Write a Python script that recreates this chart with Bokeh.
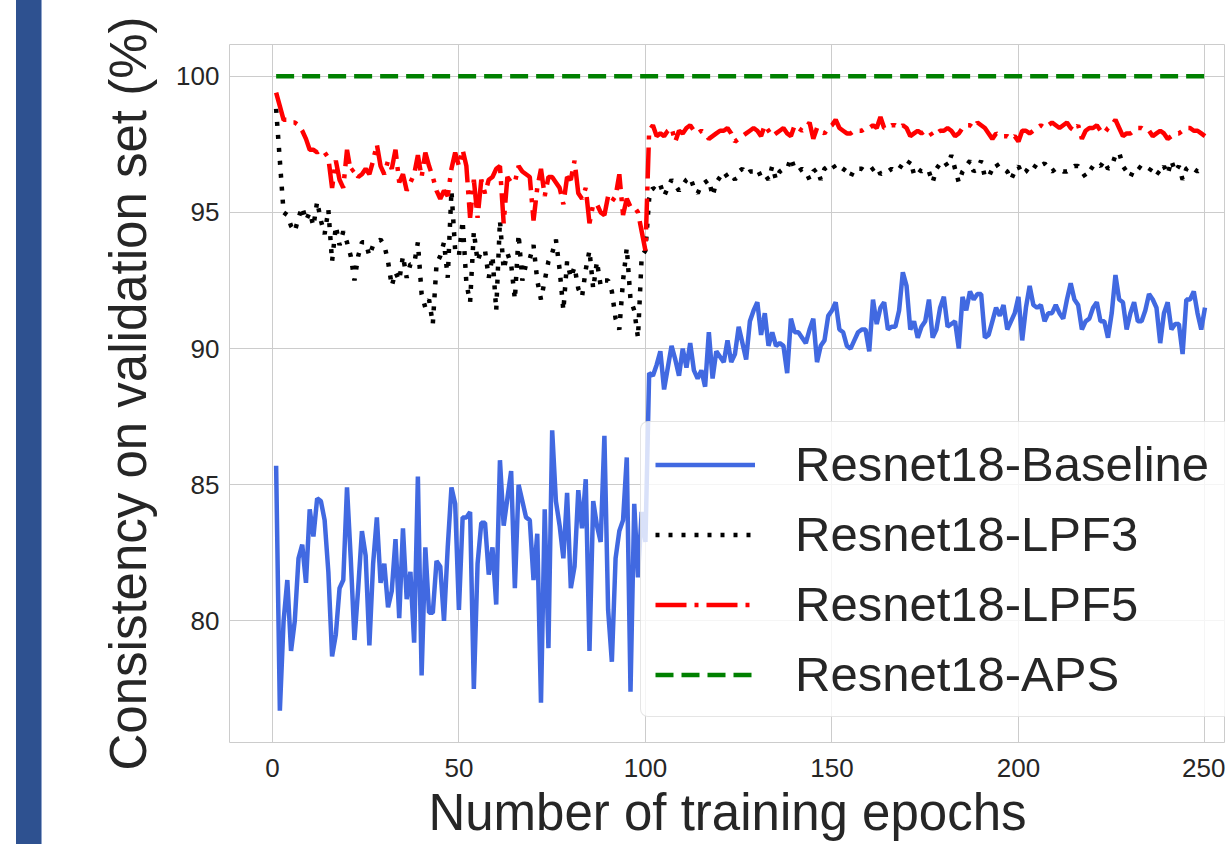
from bokeh.plotting import figure
from bokeh.models import Range1d, FixedTicker, Legend, Div
from bokeh.layouts import row
from bokeh.embed import file_html
from bokeh.resources import INLINE

epochs = list(range(1, 251))

baseline = [
    85.7, 76.7, 80.0, 81.5, 78.9, 80.0, 82.3, 82.8, 81.4, 84.1,
    83.1, 84.5, 84.4, 83.7, 81.8, 78.7, 79.5, 81.2, 81.5, 84.9,
    82.3, 79.3, 81.2, 83.3, 82.4, 79.1, 82.1, 83.8, 81.4, 82.1,
    80.5, 81.1, 83.0, 80.1, 83.4, 80.8, 81.8, 79.2, 85.3, 78.0,
    82.7, 80.3, 80.3, 82.2, 82.0, 80.0, 82.7, 84.9, 84.3, 80.4,
    83.8, 83.8, 84.0, 77.5, 82.1, 83.6, 83.6, 81.7, 82.7, 80.6,
    85.9, 83.5, 84.5, 85.5, 81.2, 85.0, 84.4, 83.8, 83.7, 81.5,
    83.2, 77.0, 84.1, 79.0, 87.0, 84.4, 83.5, 82.3, 84.7, 81.2,
    82.0, 84.8, 83.4, 85.2, 78.9, 84.4, 83.5, 82.9, 86.8, 80.4,
    78.5, 82.3, 83.3, 83.7, 86.0, 77.4, 84.3, 81.6, 84.0, 82.9,
    89.1, 89.0, 89.4, 89.9, 88.5, 89.3, 90.1, 89.6, 89.0, 90.0,
    89.3, 90.2, 89.2, 88.9, 89.2, 88.6, 90.6, 88.9, 89.9, 89.7,
    89.5, 90.3, 89.5, 89.8, 90.8, 90.2, 89.6, 91.0, 91.4, 91.7,
    90.5, 91.3, 90.1, 90.6, 90.1, 90.2, 90.1, 89.1, 91.1, 90.6,
    90.6, 90.4, 90.2, 90.7, 91.1, 89.5, 90.1, 90.3, 91.2, 91.4,
    91.7, 90.7, 90.6, 90.1, 90.0, 90.3, 90.6, 90.7, 90.7, 89.9,
    91.8, 90.9, 91.5, 91.7, 90.7, 90.8, 90.8, 91.4, 92.8, 92.3,
    90.7, 91.0, 90.4, 90.8, 91.0, 91.8, 90.4, 90.7, 91.5, 91.9,
    90.8, 90.9, 91.0, 90.0, 91.9, 91.4, 92.1, 91.8, 92.0, 92.0,
    90.4, 90.5, 91.0, 91.5, 91.2, 91.6, 90.7, 91.0, 91.3, 91.9,
    90.3, 91.5, 92.3, 91.6, 91.5, 91.6, 91.0, 91.3, 91.3, 91.6,
    91.3, 91.1, 91.8, 92.4, 91.8, 91.6, 90.7, 91.0, 91.1, 91.5,
    91.7, 91.0, 91.0, 90.4, 91.3, 92.7, 91.8, 91.7, 90.7, 91.3,
    91.7, 91.0, 91.0, 91.4, 92.0, 91.8, 91.5, 90.2, 91.3, 91.7,
    90.7, 90.9, 90.9, 89.8, 91.8, 91.8, 92.1, 91.3, 90.7, 91.5,
]

lpf3 = [
    98.8, 96.9, 95.0, 94.9, 94.5, 94.3, 94.8, 95.2, 94.7, 95.0,
    94.5, 95.4, 94.7, 94.2, 95.1, 93.2, 94.5, 93.8, 94.3, 93.9,
    93.4, 92.5, 93.4, 93.9, 93.9, 93.4, 93.8, 93.9, 94.0, 93.8,
    93.2, 92.3, 92.8, 92.5, 93.4, 92.6, 93.1, 93.1, 93.9, 92.0,
    91.5, 91.8, 90.9, 93.1, 93.4, 93.9, 92.6, 95.8, 93.6, 93.4,
    94.7, 92.4, 91.7, 94.3, 93.2, 93.6, 93.6, 92.6, 93.4, 91.4,
    94.7, 92.9, 93.5, 93.1, 91.8, 94.2, 92.5, 93.1, 93.3, 93.8,
    92.5, 91.8, 92.5, 93.2, 93.5, 94.0, 92.9, 91.4, 93.2, 92.6,
    93.0, 92.2, 91.9, 92.9, 93.6, 92.2, 93.2, 92.3, 92.5, 92.5,
    92.1, 91.1, 90.7, 92.5, 93.7, 91.8, 91.4, 90.4, 93.4, 93.6,
    95.5, 95.9, 95.8, 96.0, 95.6, 95.9, 96.2, 96.0, 95.8, 96.0,
    96.2, 96.3, 95.9, 95.7, 96.0, 96.1, 96.2, 95.6, 96.1, 96.3,
    96.5, 96.3, 96.4, 96.2, 96.5, 96.6, 96.4, 96.5, 96.5, 96.6,
    96.3, 96.4, 96.2, 96.7, 96.2, 96.5, 96.6, 96.6, 97.0, 96.6,
    96.5, 96.6, 96.5, 96.2, 96.5, 96.6, 96.2, 96.6, 96.7, 96.8,
    96.6, 96.7, 96.6, 96.5, 96.3, 96.6, 96.6, 96.6, 96.5, 96.5,
    96.6, 96.7, 96.4, 96.5, 96.5, 96.6, 96.5, 96.6, 96.8, 96.7,
    96.9, 96.4, 96.6, 96.5, 96.6, 96.5, 96.1, 96.6, 96.8, 96.9,
    96.7, 97.1, 96.6, 96.1, 96.5, 96.7, 96.9, 96.5, 96.6, 96.9,
    96.3, 96.3, 96.6, 96.8, 96.6, 96.6, 96.5, 96.2, 96.5, 96.7,
    96.4, 96.5, 96.7, 96.6, 96.8, 96.7, 96.8, 96.6, 96.5, 96.6,
    96.6, 96.5, 96.5, 96.6, 96.7, 96.7, 96.5, 96.3, 96.5, 96.7,
    96.8, 96.7, 96.9, 96.6, 96.7, 97.1, 97.2, 96.7, 96.5, 96.3,
    96.6, 96.7, 96.6, 96.5, 96.5, 96.7, 96.5, 96.4, 96.7, 96.4,
    96.9, 96.5, 96.7, 96.2, 96.6, 96.7, 96.6, 96.5, 96.6, 96.5,
]

lpf5 = [
    99.4, 98.9, 98.4, 98.4, 98.3, 98.3, 98.2, 98.0, 97.7, 97.3,
    97.3, 97.2, 97.3, 97.2, 97.0, 95.9, 96.9, 96.2, 95.9, 97.3,
    96.5, 96.6, 96.3, 96.4, 96.6, 96.4, 96.9, 97.5, 96.7, 96.4,
    96.9, 96.6, 97.3, 96.1, 96.4, 95.8, 96.1, 96.4, 97.1, 96.3,
    97.2, 96.7, 96.3, 95.8, 95.5, 95.8, 95.6, 96.6, 97.2, 96.7,
    97.3, 96.7, 94.8, 96.2, 94.8, 96.2, 95.7, 96.2, 96.3, 96.6,
    96.7, 94.6, 96.3, 96.1, 96.1, 96.7, 96.5, 96.4, 96.3, 94.7,
    95.9, 96.6, 95.6, 96.3, 96.3, 96.1, 95.9, 95.3, 96.3, 96.2,
    96.9, 95.7, 95.5, 95.9, 94.6, 95.3, 95.3, 95.0, 94.9, 95.6,
    95.4, 95.6, 96.4, 94.9, 95.5, 95.2, 95.2, 95.0, 94.3, 93.6,
    98.0, 98.2, 97.8, 97.9, 97.8, 98.0, 98.1, 97.6, 98.0, 97.9,
    98.1, 98.2, 98.0, 97.9, 98.0, 97.9, 97.7, 97.8, 97.9, 98.0,
    98.0, 98.1, 97.9, 97.6, 97.7, 97.8, 97.9, 98.0, 98.1, 98.0,
    97.8, 98.2, 98.0, 97.8, 97.9, 98.0, 98.1, 97.9, 97.8, 98.2,
    98.1, 98.0, 98.1, 98.3, 97.7, 98.1, 98.0, 97.9, 98.1, 98.2,
    98.4, 98.1, 98.0, 97.9, 97.9, 98.0, 98.0, 98.0, 98.1, 98.1,
    98.2, 98.1, 98.5, 98.1, 98.1, 98.2, 98.2, 98.1, 98.2, 98.1,
    97.8, 97.9, 98.0, 97.9, 98.0, 98.0, 97.8, 97.9, 98.0, 98.0,
    98.1, 98.0, 97.8, 97.9, 98.1, 98.2, 98.2, 98.1, 98.3, 98.2,
    98.1, 97.9, 97.7, 97.9, 97.8, 97.8, 97.8, 97.7, 97.8, 97.6,
    98.0, 98.0, 97.9, 98.0, 98.1, 98.2, 98.1, 98.2, 98.3, 98.2,
    98.1, 98.2, 98.3, 98.1, 98.0, 98.2, 97.7, 98.0, 98.1, 98.1,
    98.2, 98.0, 97.9, 98.1, 98.2, 98.4, 98.1, 97.8, 97.9, 97.9,
    98.0, 98.1, 98.1, 98.0, 98.0, 97.8, 97.9, 98.0, 97.9, 97.7,
    97.8, 97.9, 97.9, 98.0, 98.1, 98.1, 98.0, 98.0, 97.9, 97.8,
]

aps = [100.0] * 250

series_names = ["Resnet18-Baseline", "Resnet18-LPF3", "Resnet18-LPF5", "Resnet18-APS"]
x_ticks = [0, 50, 100, 150, 200, 250]
y_ticks = [80, 85, 90, 95, 100]

FONT = "Liberation Sans"
TXT = "#262626"
GRID = "#cccccc"

p = figure(width=1183, height=844, output_backend="svg", toolbar_location=None,
           x_range=Range1d(-11.5, 255.5), y_range=Range1d(75.535, 101.165),
           min_border_left=187, min_border_right=0, min_border_top=44,
           min_border_bottom=102, margin=0)

p.background_fill_color = "white"
p.border_fill_color = "white"
p.outline_line_color = GRID
p.outline_line_width = 1

p.xaxis.ticker = FixedTicker(ticks=x_ticks)
p.yaxis.ticker = FixedTicker(ticks=y_ticks)
p.xgrid.grid_line_color = GRID
p.ygrid.grid_line_color = GRID
p.xgrid.grid_line_width = 1
p.ygrid.grid_line_width = 1

for ax in (p.xaxis, p.yaxis):
    ax.axis_line_color = None
    ax.major_tick_line_color = None
    ax.minor_tick_line_color = None
    ax.major_label_text_font = FONT
    ax.major_label_text_font_size = "26px"
    ax.major_label_text_color = TXT
    ax.axis_label_text_font = FONT
    ax.axis_label_text_font_size = "51px"
    ax.axis_label_text_font_style = "normal"
    ax.axis_label_text_color = TXT

p.xaxis.axis_label = "Number of training epochs"
p.yaxis.axis_label = "Consistency on validation set (%)"
p.xaxis.major_label_standoff = 10
p.yaxis.major_label_standoff = 4
p.xaxis.axis_label_standoff = 4
p.yaxis.axis_label_standoff = 16

r_base = p.line(epochs, baseline, line_color="#4169E1", line_width=4.5)
r_lpf3 = p.line(epochs, lpf3, line_color="black", line_width=4.5, line_dash="4 9")
r_lpf5 = p.line(epochs, lpf5, line_color="#FF0000", line_width=4.5, line_dash="31 8 4 8")
r_aps = p.line(epochs, aps, line_color="#008000", line_width=4.5, line_dash="18 8")

legend = Legend(items=[(series_names[0], [r_base]), (series_names[1], [r_lpf3]),
                       (series_names[2], [r_lpf5]), (series_names[3], [r_aps])],
                location=(411, 25))
legend.label_text_font = FONT
legend.label_text_font_size = "49px"
legend.label_text_color = TXT
legend.glyph_width = 100
legend.glyph_height = 55
legend.label_height = 55
legend.label_width = 440
legend.label_standoff = 40
legend.spacing = 14
legend.padding = 14
legend.margin = 0
legend.background_fill_color = "white"
legend.background_fill_alpha = 0.8
legend.border_line_color = GRID
legend.border_line_width = 1.5
if "border_radius" in Legend.properties():
    legend.border_radius = 8
p.add_layout(legend, "center")

bar = Div(text="", width=26, height=844, margin=(0, 0, 0, 16),
          styles={"background-color": "#2E5190", "border-right": "1px solid #8FA4CC"})

layout = row(bar, p, spacing=0)

open("out.html", "w").write(file_html(layout, INLINE))
